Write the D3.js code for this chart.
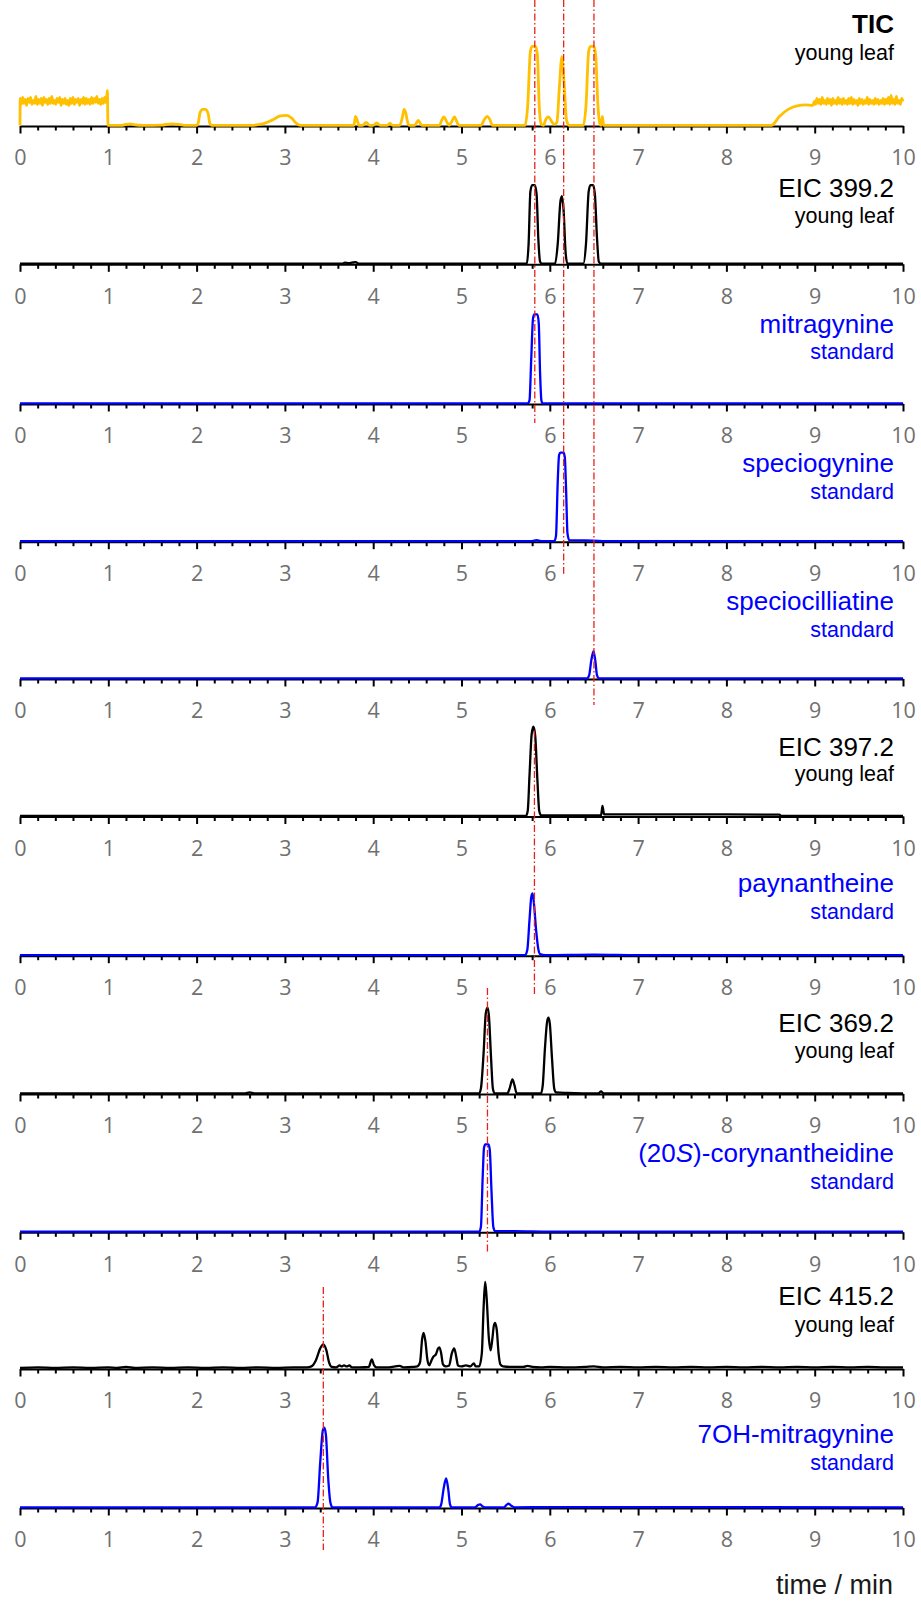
<!DOCTYPE html>
<html>
<head>
<meta charset="utf-8">
<script src="https://cdn.jsdelivr.net/npm/d3@7"></script>
<style>
  html, body { margin: 0; padding: 0; background: #ffffff; }
  svg { display: block; }
</style>
</head>
<body>
<svg id="chart" width="921" height="1602"></svg>
<script>
// ---------- chromatogram data: [retention time (min), intensity (a.u.)] ----------

const ticYoungLeaf = [
  [0,0],[0.003,27],[0.015,21],[0.03,28],[0.045,22],[0.06,26],[0.075,20],[0.09,27],[0.105,23],[0.12,28],
  [0.135,21],[0.15,25],[0.165,22],[0.18,29],[0.195,21],[0.21,26],[0.225,22],[0.24,27],[0.255,20],[0.27,28],
  [0.285,23],[0.30,26],[0.315,21],[0.33,27],[0.345,22],[0.36,29],[0.375,22],[0.39,25],[0.405,21],[0.42,27],
  [0.435,23],[0.45,28],[0.465,20],[0.48,26],[0.495,22],[0.51,27],[0.525,21],[0.54,25],[0.555,20],[0.57,27],
  [0.585,22],[0.60,28],[0.615,21],[0.63,26],[0.645,23],[0.66,27],[0.675,20],[0.69,26],[0.705,22],[0.72,28],
  [0.735,21],[0.75,27],[0.765,22],[0.78,26],[0.795,21],[0.81,28],[0.825,22],[0.84,27],[0.855,23],[0.87,29],
  [0.885,22],[0.90,26],[0.915,21],[0.93,27],[0.945,22],[0.96,28],[0.975,23],[0.99,35],[0.996,0],
  [1.15,0],[1.2,1],[1.25,1.5],[1.3,0.5],[1.4,0],[1.6,0.3],[1.72,1.5],[1.8,1],[1.88,0],
  [2.0,0],[2.02,3],[2.04,13],[2.07,16],[2.10,16],[2.13,12],[2.15,2],[2.17,0],
  [2.6,0],[2.75,1.5],[2.85,5],[2.95,9.5],[3.02,10],[3.08,7],[3.13,2],[3.18,0],
  [3.78,0],[3.79,4],[3.80,9],[3.82,5],[3.84,0],[3.88,0],[3.92,3],[3.96,0],[4.0,0],[4.04,2.5],[4.08,0],
  [4.16,0],[4.19,2],[4.22,0],[4.3,0],[4.33,8],[4.35,16],[4.37,12],[4.39,3],[4.41,0],
  [4.47,0],[4.51,5],[4.55,0],[4.75,0],[4.78,6],[4.80,8.5],[4.83,4],[4.86,0],[4.89,4],[4.92,8.5],[4.95,3],[4.97,0],
  [5.22,0],[5.26,6],[5.29,9],[5.32,6],[5.35,0],
  [5.72,0],[5.75,20],[5.78,74],[5.80,79],[5.84,79],[5.86,70],[5.88,20],[5.90,2],[5.93,0],
  [5.95,5],[5.985,8.5],[6.02,4],[6.05,1],[6.08,3],[6.11,40],[6.137,68.7],[6.16,45],[6.19,5],[6.22,0],
  [6.38,0],[6.41,20],[6.44,74],[6.46,79],[6.50,79],[6.52,70],[6.545,20],[6.565,2],[6.58,0],
  [6.595,9],[6.61,0],[6.63,0],
  [8.51,0],[8.6,9],[8.7,16],[8.8,19.5],[8.9,20.5],[8.98,20],
  [8.995,24],[9.01,21],[9.025,27],[9.04,22],[9.055,26],[9.07,21],[9.085,28],[9.10,22],[9.115,25],[9.13,21],
  [9.145,27],[9.16,22],[9.175,26],[9.19,20],[9.205,27],[9.22,22],[9.235,25],[9.25,21],[9.265,28],[9.28,22],
  [9.295,26],[9.31,21],[9.325,27],[9.34,22],[9.355,25],[9.37,21],[9.385,27],[9.40,22],[9.415,28],[9.43,21],
  [9.445,26],[9.46,22],[9.475,25],[9.49,20],[9.505,27],[9.52,22],[9.535,26],[9.55,21],[9.565,25],[9.58,22],
  [9.595,28],[9.61,21],[9.625,26],[9.64,22],[9.655,25],[9.67,21],[9.685,27],[9.70,22],[9.715,26],[9.73,21],
  [9.745,25],[9.76,22],[9.775,27],[9.79,21],[9.805,26],[9.82,22],[9.835,28],[9.85,21],[9.865,30],[9.88,22],
  [9.895,26],[9.91,21],[9.925,29],[9.94,22],[9.955,25],[9.97,21],[9.985,27],[10,24]
];

const eic399YoungLeaf = [
  [0,0],[3.65,0],[3.68,1],[3.72,0.5],[3.76,1],[3.8,1.5],[3.84,0],
  [5.74,0],[5.76,20],[5.78,72],[5.80,78.6],[5.83,78.6],[5.85,70],[5.87,25],[5.89,2],[5.91,0],
  [6.06,0],[6.09,20],[6.12,62],[6.137,67.6],[6.155,55],[6.18,10],[6.2,0],
  [6.38,0],[6.41,20],[6.44,72],[6.46,78.6],[6.49,78.6],[6.51,70],[6.535,25],[6.555,2],[6.58,0],
  [10,0]
];

const mitragynineStd = [
  [0,0],[5.75,0],[5.77,3],[5.79,45],[5.81,85],[5.825,89],[5.86,89],[5.875,80],[5.89,30],[5.905,3],[5.92,0],[10,0]
];

const speciogynineStd = [
  [0,0],[5.8,0],[5.85,1],[5.9,0],[6.05,0],[6.07,5],[6.09,60],[6.105,86],[6.12,88.4],[6.155,88.4],
  [6.17,84],[6.185,50],[6.2,8],[6.22,1],[6.4,0.7],[6.6,0],[10,0]
];

const speciocilliatineStd = [
  [0,0],[6.42,0],[6.445,3],[6.47,18],[6.495,27.3],[6.515,18],[6.535,3],[6.56,0],[10,0]
];

const eic397YoungLeaf = [
  [0,0],[5.73,0],[5.75,5],[5.77,40],[5.795,82],[5.815,89.3],[5.835,80],[5.86,35],[5.88,5],[5.9,0.5],
  [6.58,0.5],[6.59,6],[6.597,10],[6.605,6],[6.615,1.5],[7.0,1.5],[8.0,1.5],[8.6,1.2],[8.62,0],[10,0]
];

const paynantheineStd = [
  [0,0],[5.72,0],[5.745,5],[5.77,35],[5.79,58],[5.804,61.7],[5.82,52],[5.845,25],[5.87,6],[5.89,1],
  [5.95,0],[6.5,0.5],[7,0],[10,0]
];

const eic369YoungLeaf = [
  [0,0],[2.55,0],[2.6,1],[2.65,0],
  [5.2,0],[5.22,5],[5.25,40],[5.275,80],[5.294,85.7],[5.31,78],[5.335,35],[5.355,5],[5.375,0],
  [5.52,0],[5.545,5],[5.577,14],[5.6,8],[5.625,0],
  [5.9,0],[5.92,8],[5.945,45],[5.97,72],[5.985,75.7],[6.0,70],[6.025,35],[6.05,5],[6.07,1],[6.2,0.5],
  [6.55,0],[6.58,2],[6.61,0],[10,0]
];

const corynantheidineStd = [
  [0,0],[5.2,0],[5.22,5],[5.24,55],[5.255,84],[5.27,87.3],[5.305,87.3],[5.32,82],[5.34,40],[5.36,5],
  [5.38,0.5],[5.6,0.5],[6.0,0],[10,0]
];

const eic415YoungLeaf = [
  [0,0.5],[0.2,1],[0.4,0.5],[0.6,1],[0.8,0.5],[1.0,1],[1.1,0.5],[1.2,1.5],[1.3,0.5],[1.5,1],[1.7,0.5],
  [1.9,1],[2.1,0.5],[2.3,1],[2.5,0.5],[2.7,1],[2.9,0.5],[3.1,1],[3.25,1],[3.3,2],[3.35,8],[3.4,20],
  [3.436,24],[3.47,18],[3.5,6],[3.53,1.5],[3.58,1],[3.62,3],[3.64,2],[3.67,3],[3.7,2],[3.73,3],[3.76,1],
  [3.85,1],[3.95,1.5],[3.984,9],[4.01,3],[4.04,1],[4.15,1],[4.25,2],[4.3,2.5],[4.35,1],[4.45,1.5],[4.5,2],
  [4.53,6],[4.555,30],[4.57,35.6],[4.59,28],[4.615,8],[4.635,3],[4.66,8],[4.68,11.6],[4.71,14],[4.735,20],
  [4.75,21],[4.77,15],[4.79,4],[4.82,2],[4.86,3],[4.89,15],[4.917,20],[4.94,12],[4.96,3],[5.0,2],[5.05,3],
  [5.1,2],[5.14,5],[5.16,2],[5.2,2],[5.23,15],[5.25,60],[5.268,86.6],[5.285,70],[5.31,30],[5.33,18],
  [5.35,30],[5.365,42],[5.38,45.6],[5.4,38],[5.42,15],[5.44,4],[5.47,2],[5.55,1.5],[5.7,1.5],[5.75,2.5],
  [5.8,1.5],[5.9,1],[6.0,1.5],[6.2,1],[6.4,1.5],[6.5,2],[6.6,1],[6.8,1.5],[7,1],[7.2,1.5],[7.4,1],
  [7.6,1.5],[7.8,1],[8,1.5],[8.2,1],[8.4,1.5],[8.6,1],[8.8,1.5],[9,1],[9.2,1.5],[9.4,1],[9.6,1.5],
  [9.8,1],[10,1]
];

const hydroxyMitragynineStd = [
  [0,0],[3.34,0],[3.37,5],[3.40,45],[3.43,77],[3.447,79.7],[3.465,72],[3.49,30],[3.515,5],[3.54,0],
  [4.75,0],[4.77,3],[4.80,20],[4.826,29],[4.85,18],[4.87,3],[4.89,0],
  [5.15,0],[5.19,2.5],[5.21,3],[5.24,1],[5.28,0],[5.48,0],[5.51,2.5],[5.53,3.7],[5.56,2],[5.6,0],
  [6.0,0.3],[10,0]
];

const traces = [
  ticYoungLeaf, eic399YoungLeaf, mitragynineStd, speciogynineStd, speciocilliatineStd,
  eic397YoungLeaf, paynantheineStd, eic369YoungLeaf, corynantheidineStd, eic415YoungLeaf,
  hydroxyMitragynineStd
];

const traceTitles = [
  "TIC", "EIC 399.2", "mitragynine", "speciogynine", "speciocilliatine",
  "EIC 397.2", "paynantheine", "EIC 369.2", "(20<i>S</i>)-corynantheidine", "EIC 415.2",
  "7OH-mitragynine"
];
const traceSubtitles = [
  "young leaf", "young leaf", "standard", "standard", "standard",
  "young leaf", "standard", "young leaf", "standard", "young leaf",
  "standard"
];
const traceKinds = [
  "tic", "sample", "standard", "standard", "standard",
  "sample", "standard", "sample", "standard", "sample",
  "standard"
];

const timeTicks = [0, 1, 2, 3, 4, 5, 6, 7, 8, 9, 10];
const axisTitle = "time / min";

// retention-time markers: time and the first/last panel they cross
const markerTimes  = [5.83, 6.157, 6.50, 5.826, 5.294, 3.435];
const markerPanels = [[0, 2], [0, 3], [0, 4], [5, 6], [7, 8], [9, 10]];

// ---------- layout ----------
// baseline (time axis) of each stacked panel
const panelAxisY = [126, 264.3, 404, 541.7, 679, 816.5, 955.7, 1094, 1232.3, 1369, 1508];
const traceHeight = 90;

// title / subtitle baselines above each axis
const titleOffsets = [
  [93, 66], [67.6, 41], [71.5, 45], [70, 43], [69, 42],
  [61, 36], [64, 37], [61.7, 35.7], [70, 43.5], [64, 37], [65, 38]
];
// marker extents relative to the first/last panel axis
const markerTopOffset    = [null, null, null, -86, -106, -82];
const markerBottomOffset = [19, 32, 26, 40, 20, 42];

const kindColour = { tic: "#FFC000", sample: "#000000", standard: "#0000FF" };
const titleFont = "'Liberation Sans', Arial, sans-serif";
const tickFont = "'Open Sans', 'Noto Sans', sans-serif";

const svg = d3.select("#chart");
svg.append("rect").attr("width", 921).attr("height", 1602).attr("fill", "#ffffff");

const x = d3.scaleLinear().domain([0, 10]).range([20, 903]);
const minorTicks = d3.range(0, 10.0001, 0.2).filter(v => Math.abs(v - Math.round(v)) > 1e-6);

traces.forEach((trace, i) => {
  const y0 = panelAxisY[i];
  const y = d3.scaleLinear().domain([0, traceHeight]).range([y0 - 0.6, y0 - 0.6 - traceHeight]);
  const g = svg.append("g").attr("class", "panel");

  // minor ticks
  const minor = g.append("g")
    .attr("transform", `translate(0,${y0})`)
    .call(d3.axisBottom(x).tickValues(minorTicks).tickSize(4.5).tickSizeOuter(0).tickFormat(""));
  minor.select(".domain").remove();
  minor.selectAll("line").attr("stroke", "#000").attr("stroke-width", 2);

  // major ticks, labels and axis line
  const major = g.append("g")
    .attr("transform", `translate(0,${y0})`)
    .call(d3.axisBottom(x).tickValues(timeTicks).tickSize(7.5).tickSizeOuter(0).tickPadding(16.5)
      .tickFormat(d3.format("d")));
  major.select(".domain").attr("stroke", "#000").attr("stroke-width", 2);
  major.selectAll("line").attr("stroke", "#000").attr("stroke-width", 2);
  major.selectAll("text")
    .attr("fill", "#707070")
    .attr("font-family", tickFont)
    .attr("font-size", 21.5);

  // trace
  const colour = kindColour[traceKinds[i]];
  g.append("path")
    .datum(trace)
    .attr("fill", "none")
    .attr("stroke", colour)
    .attr("stroke-width", traceKinds[i] === "tic" ? 2.8 : 2.3)
    .attr("stroke-linejoin", "round")
    .attr("d", d3.line().x(d => x(d[0])).y(d => y(d[1])).curve(d3.curveMonotoneX));

  // labels
  const labelColour = traceKinds[i] === "standard" ? kindColour.standard : "#000000";
  const title = g.append("text")
    .attr("x", 894)
    .attr("y", y0 - titleOffsets[i][0])
    .attr("text-anchor", "end")
    .attr("font-family", titleFont)
    .attr("font-size", 26)
    .attr("font-weight", traceKinds[i] === "tic" ? "bold" : "normal")
    .attr("fill", labelColour);
  traceTitles[i].split(/(<i>.*?<\/i>)/).filter(s => s.length).forEach(part => {
    const italic = part.startsWith("<i>");
    title.append("tspan")
      .attr("font-style", italic ? "italic" : "normal")
      .text(italic ? part.slice(3, -4) : part);
  });

  g.append("text")
    .attr("x", 894)
    .attr("y", y0 - titleOffsets[i][1])
    .attr("text-anchor", "end")
    .attr("font-family", titleFont)
    .attr("font-size", 21.5)
    .attr("fill", labelColour)
    .text(traceSubtitles[i]);
});

// retention-time markers
markerTimes.forEach((t, k) => {
  const [p0, p1] = markerPanels[k];
  const top = markerTopOffset[k] === null ? 0 : panelAxisY[p0] + markerTopOffset[k];
  const bottom = panelAxisY[p1] + markerBottomOffset[k];
  svg.append("line")
    .attr("x1", x(t)).attr("x2", x(t))
    .attr("y1", top).attr("y2", bottom)
    .attr("stroke", "#E8201C")
    .attr("stroke-width", 1.3)
    .attr("stroke-dasharray", "7,2.5,1.5,2.5");
});

// x-axis title
svg.append("text")
  .attr("x", 893)
  .attr("y", 1594)
  .attr("text-anchor", "end")
  .attr("font-family", titleFont)
  .attr("font-size", 27)
  .attr("fill", "#1a1a1a")
  .text(axisTitle);
</script>
</body>
</html>
